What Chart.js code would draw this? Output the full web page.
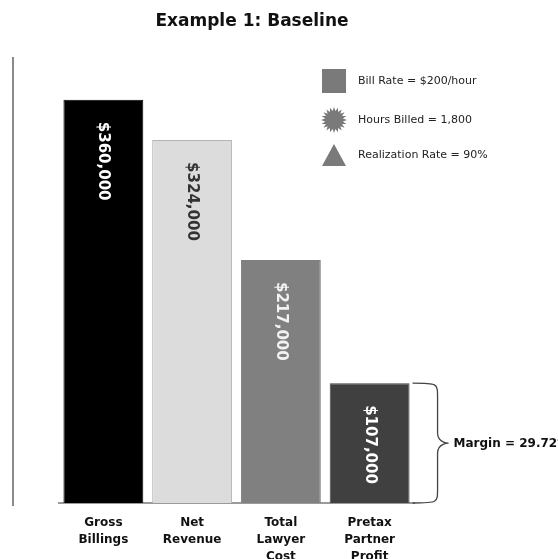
<!DOCTYPE html>
<html>
<head>
<meta charset="utf-8">
<script src="https://cdn.jsdelivr.net/npm/chart.js@4"></script>
<style>
  html, body { margin: 0; padding: 0; background: #fff; }
  #wrap { width: 558px; height: 559px; position: relative; }
</style>
</head>
<body>
<div id="wrap"><canvas id="grafica"></canvas></div>
<script>
// Datos del ejemplo
const titulo = 'Example 1: Baseline';
const categorias = [['Gross', 'Billings'], ['Net', 'Revenue'], ['Total', 'Lawyer', 'Cost'], ['Pretax', 'Partner', 'Profit']];
const valores = [360000, 324000, 217000, 107000];
const leyenda = ['Bill Rate = $200/hour', 'Hours Billed = 1,800', 'Realization Rate = 90%'];
const margen = 'Margin = 29.72%';

const fmt = v => '$' + v.toLocaleString('en-US');

// Dibujos extra: titulo, linea izquierda, etiquetas, leyenda, llave
const extras = {
    id: 'extras',
    afterDatasetsDraw(chart) {
        const ctx = chart.ctx;
        const x = chart.scales.x, y = chart.scales.y;
        const meta = chart.getDatasetMeta(0);
        ctx.save();

        // titulo
        ctx.fillStyle = '#111';
        ctx.font = 'bold 17px "DejaVu Sans"';
        ctx.textAlign = 'center';
        ctx.textBaseline = 'middle';
        ctx.fillText(titulo, 252, 22);

        // linea vertical izquierda
        ctx.strokeStyle = '#8a8a8a';
        ctx.lineWidth = 2;
        ctx.beginPath();
        ctx.moveTo(13, 57);
        ctx.lineTo(13, 506);
        ctx.stroke();

        // valores rotados dentro de las barras
        const txtColores = ['#fff', '#333', '#f2f2f2', '#fff'];
        ctx.font = 'bold 15px "DejaVu Sans"';
        meta.data.forEach((bar, i) => {
            ctx.save();
            ctx.translate(bar.x, bar.y + 22);
            ctx.rotate(Math.PI / 2);
            ctx.fillStyle = txtColores[i];
            ctx.textAlign = 'left';
            ctx.textBaseline = 'middle';
            ctx.fillText(fmt(valores[i]), 0, 0);
            ctx.restore();
        });

        // etiquetas de categoria
        ctx.fillStyle = '#111';
        ctx.font = 'bold 12px "DejaVu Sans"';
        ctx.textAlign = 'center';
        ctx.textBaseline = 'middle';
        categorias.forEach((lineas, i) => {
            const cx = x.getPixelForValue(i);
            lineas.forEach((t, j) => ctx.fillText(t, cx, 523 + j * 17));
        });

        // leyenda
        const gris = '#7a7a7a';
        ctx.fillStyle = gris;
        ctx.fillRect(322, 69, 24, 24);
        // estrella
        const sx = 334, sy = 120;
        ctx.beginPath();
        for (let k = 0; k < 40; k++) {
            const r = k % 2 ? 9 : 13;
            const a = k * Math.PI / 20;
            const px = sx + r * Math.cos(a), py = sy + r * Math.sin(a);
            k ? ctx.lineTo(px, py) : ctx.moveTo(px, py);
        }
        ctx.closePath();
        ctx.fill();
        // triangulo
        ctx.beginPath();
        ctx.moveTo(334, 144);
        ctx.lineTo(346, 166);
        ctx.lineTo(322, 166);
        ctx.closePath();
        ctx.fill();

        ctx.fillStyle = '#222';
        ctx.font = '11px "DejaVu Sans"';
        ctx.textAlign = 'left';
        [81, 120, 155].forEach((ty, i) => ctx.fillText(leyenda[i], 358, ty));

        // llave del margen
        const top = y.getPixelForValue(valores[3]);
        const bot = y.getPixelForValue(0);
        const mid = (top + bot) / 2;
        const x0 = meta.data[3].x + meta.data[3].width / 2 + 3;
        const x1 = x0 + 25, x2 = x1 + 11;
        ctx.strokeStyle = '#444';
        ctx.lineWidth = 1.3;
        ctx.beginPath();
        ctx.moveTo(x0, top);
        ctx.bezierCurveTo(x1, top, x1, top, x1, top + 14);
        ctx.lineTo(x1, mid - 10);
        ctx.bezierCurveTo(x1, mid, x2, mid, x2, mid);
        ctx.bezierCurveTo(x2, mid, x1, mid, x1, mid + 10);
        ctx.lineTo(x1, bot - 14);
        ctx.bezierCurveTo(x1, bot, x1, bot, x0, bot);
        ctx.stroke();

        ctx.fillStyle = '#111';
        ctx.font = 'bold 12px "DejaVu Sans"';
        ctx.fillText(margen, x2 + 5, mid + 1);

        ctx.restore();
    }
};

const ctxG = document.getElementById('grafica').getContext('2d');
const grafica = new Chart(ctxG, {
    type: 'bar',
    data: {
        labels: categorias,
        datasets: [{
            data: valores,
            backgroundColor: ['#000000', '#dcdcdc', '#808080', '#404040'],
            borderColor: ['#000000', '#b4b4b4', '#808080', '#404040'],
            borderWidth: 1,
            barPercentage: 0.9,
            categoryPercentage: 1
        }]
    },
    options: {
        responsive: true,
        maintainAspectRatio: false,
        animation: false,
        layout: { padding: { left: 59, right: 144, top: 55, bottom: 56 } },
        plugins: {
            legend: { display: false },
            title: { display: false },
            tooltip: { enabled: false }
        },
        scales: {
            x: {
                grid: { display: false, drawTicks: false },
                border: { display: true, color: '#9a9a9a', width: 2 },
                ticks: { display: false }
            },
            y: {
                display: false,
                min: 0,
                max: 400000
            }
        }
    },
    plugins: [extras]
});
</script>
</body>
</html>
